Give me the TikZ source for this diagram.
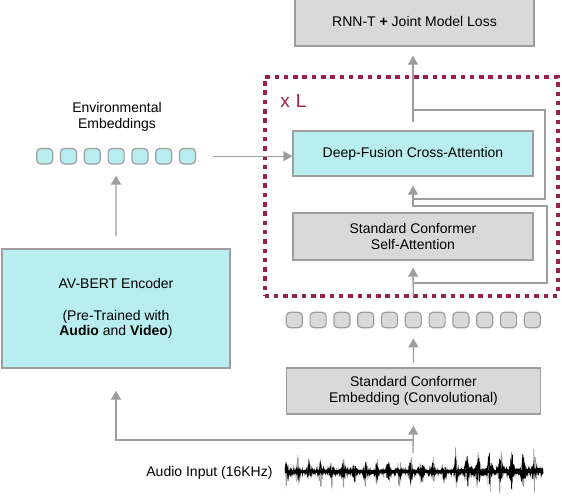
\documentclass[tikz,border=0pt]{standalone}
\usepackage{fontspec}
\setmainfont{Liberation Sans}
\usetikzlibrary{arrows.meta}
\definecolor{boxgray}{RGB}{217,217,217}
\definecolor{linegray}{RGB}{158,158,158}
\definecolor{fusioncyan}{RGB}{184,238,240}
\definecolor{layermaroon}{RGB}{155,32,82}

\begin{document}
\begin{tikzpicture}[
            x=1pt, y=-1pt,
            font=\fontsize{14}{15.5}\selectfont,
            box/.style={draw=linegray, line width=1.3pt, align=center, inner sep=2pt},
            token/.style={draw=linegray, line width=1.2pt, rounded corners=4pt, minimum width=16pt, minimum height=15.5pt, inner sep=0pt},
            arrow/.style={draw=linegray, line width=1.3pt, -{Triangle[length=9pt,width=10pt]}},
            skip/.style={draw=linegray, line width=1.1pt},
            layer/.style={draw=layermaroon, line width=4pt, dash pattern=on 4.5pt off 4.8pt}
        ]
        \useasboundingbox (0,0) rectangle (562,498);

        % The Boxes
        \node[box, fill=boxgray, minimum width=239pt, minimum height=50pt] (loss) at (414.5,21) {RNN-T \textbf{+} Joint Model Loss}; \node[box, fill=fusioncyan, minimum width=240pt, minimum height=45pt] (cross) at (413,153.5) {Deep-Fusion Cross-Attention}; \node[box, fill=boxgray, minimum width=240pt, minimum height=47pt] (self) at (413,236.5) {Standard Conformer\\Self-Attention};
        \node[box, fill=boxgray, minimum width=254pt, minimum height=46pt] (embed) at (413.5,391) {Standard Conformer\\Embedding (Convolutional)}; \node[box, fill=fusioncyan, minimum width=228pt, minimum height=119pt] (avbert) at (116,308.5) {AV-BERT Encoder\\[16pt](Pre-Trained with\\\textbf{Audio} and \textbf{Video})};

        % Layer Frame
        \node[layer, minimum width=293pt, minimum height=219pt] (layer) at (411,186.5) {}; \node[text=layermaroon, font=\fontsize{19}{21}\selectfont] (times) at (293.5,101) {x\hspace{6pt}L};

        % Environmental Embeddings
        \node[align=center] (envlabel) at (117,117) {Environmental\\Embeddings};
        \node[token, fill=fusioncyan] (env1) at (44.7,156.2) {}; \node[token, fill=fusioncyan] (env2) at (68.5,156.2) {}; \node[token, fill=fusioncyan] (env3) at (92.3,156.2) {}; \node[token, fill=fusioncyan] (env4) at (116.1,156.2) {};
        \node[token, fill=fusioncyan] (env5) at (139.9,156.2) {}; \node[token, fill=fusioncyan] (env6) at (163.7,156.2) {}; \node[token, fill=fusioncyan] (env7) at (187.5,156.2) {};

        % Audio Tokens
        \node[token, fill=boxgray] (tok1) at (294.3,320) {}; \node[token, fill=boxgray] (tok2) at (318.1,320) {}; \node[token, fill=boxgray] (tok3) at (341.9,320) {}; \node[token, fill=boxgray] (tok4) at (365.7,320) {};
        \node[token, fill=boxgray] (tok5) at (389.5,320) {}; \node[token, fill=boxgray] (tok6) at (413.3,320) {}; \node[token, fill=boxgray] (tok7) at (437.1,320) {}; \node[token, fill=boxgray] (tok8) at (460.9,320) {};
        \node[token, fill=boxgray] (tok9) at (484.7,320) {}; \node[token, fill=boxgray] (tok10) at (508.5,320) {}; \node[token, fill=boxgray] (tok11) at (532.3,320) {};

        % Audio Input
        \node[anchor=east] (audiolabel) at (276,472.5) {Audio Input (16KHz)};
        \pgfmathsetseed{7}
        \draw[black!40, line width=0.7pt] plot[domain=285:543, samples=700] (\x, {471.7 + (\x<455 ? 17 : 27)*(0.12+0.88*abs(sin(16*\x))^8)*rand});
        \draw[black, line width=0.9pt] plot[domain=285:543, samples=900] (\x, {471.7 + (\x<455 ? 10 : 18)*(0.2+0.8*abs(sin(16*\x))^8)*rand});
        \draw[black, line width=2.5pt] (285,471.7) -- (543,471.7);
        \coordinate (audio) at (413,453); \coordinate (split) at (413,440);

        % Connectors
        \draw[arrow, shorten >=11pt] (audio) -- (embed.south); \draw[arrow, shorten >=22pt] (split) -| (avbert.south);
        \draw[arrow, shorten <=5pt, shorten >=10pt] (embed.north) -- (tok6.south); \draw[arrow, shorten <=16pt, shorten >=7pt] (tok6.north) -- (self.south);
        \draw[arrow, shorten <=5pt, shorten >=9pt] (self.north) -- (cross.south); \draw[arrow, shorten <=8pt, shorten >=9pt] (cross.north) -- (cross.north |- loss.south);
        \draw[arrow, shorten <=12pt, shorten >=11pt] (avbert.north) -- (env4.south); \draw[arrow, shorten <=17pt] (env7.east) -- (env7.east -| cross.west);

        % Residual Paths
        \coordinate (skipA) at (413,110); \coordinate (skipB) at (413,199); \coordinate (skipC) at (413,206); \coordinate (skipD) at (413,283);
        \draw[skip] (skipA) -- ++(132,0) |- (skipB); \draw[skip] (skipC) -- ++(134,0) |- (skipD);

    \end{tikzpicture}
\end{document}
